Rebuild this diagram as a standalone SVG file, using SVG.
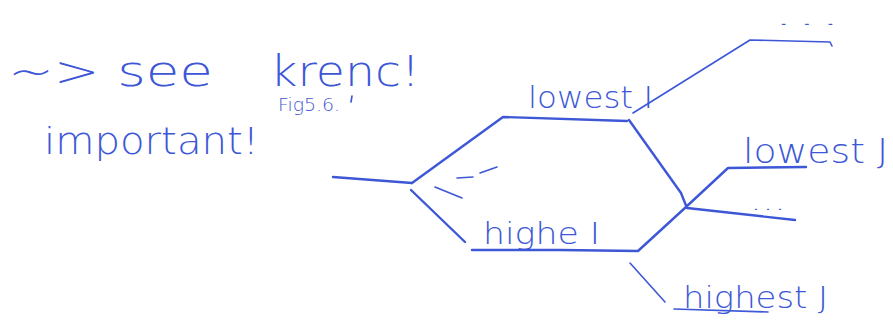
<svg xmlns="http://www.w3.org/2000/svg" width="893" height="325" viewBox="0 0 893 325">
  <style>
    .ink { fill: none; stroke: #3d57d6; stroke-width: 2.4; stroke-linecap: round; stroke-linejoin: round; }
    .thin { stroke-width: 1.6; }
    .hand { fill: #3d57d6; font-family: "DejaVu Sans", "Liberation Sans", sans-serif; font-weight: 300; }
  </style>
  <rect width="893" height="325" fill="#ffffff"/>

  <!-- notes, top left -->
  <g id="note-see">
    <text class="hand" x="8" y="86" font-size="42" textLength="205" lengthAdjust="spacingAndGlyphs">~&gt; see</text>
  </g>
  <g id="note-krenc">
    <text class="hand" x="270" y="86" font-size="42" textLength="150" lengthAdjust="spacingAndGlyphs">krenc!</text>
    <text class="hand" x="278" y="111" font-size="17" textLength="62" lengthAdjust="spacingAndGlyphs">Fig5.6.</text>
    <path class="ink thin" d="M352 96 L351 102"/>
  </g>
  <g id="note-important">
    <text class="hand" x="44" y="154" font-size="38" textLength="215" lengthAdjust="spacingAndGlyphs">important!</text>
  </g>

  <!-- branch labels -->
  <g id="lowest-I">
    <text class="hand" x="528" y="108" font-size="31" textLength="125" lengthAdjust="spacingAndGlyphs">lowest I</text>
  </g>
  <g id="dots-top">
    <text class="hand" x="772" y="25" font-size="20" textLength="70" lengthAdjust="spacingAndGlyphs">...</text>
  </g>
  <g id="lowest-J">
    <text class="hand" x="743" y="163" font-size="33" textLength="145" lengthAdjust="spacingAndGlyphs">lowest J</text>
  </g>
  <g id="dots-mid">
    <text class="hand" x="750" y="210" font-size="20" textLength="36" lengthAdjust="spacingAndGlyphs">...</text>
  </g>
  <g id="highe-I">
    <text class="hand" x="483" y="244" font-size="31" textLength="117" lengthAdjust="spacingAndGlyphs">highe I</text>
  </g>
  <g id="highest-J">
    <text class="hand" x="683" y="308" font-size="31" textLength="145" lengthAdjust="spacingAndGlyphs">highest J</text>
  </g>

  <!-- tree branches -->
  <g id="connectors">
    <path class="ink" d="M333 177 L412 183"/>
    <path class="ink" d="M412 183 L503 117 L627 121"/>
    <path class="ink" d="M411 190 L465 242"/>
    <path class="ink thin" d="M457 178 L473 177"/>
    <path class="ink thin" d="M480 173 L497 167"/>
    <path class="ink thin" d="M435 187 L462 198"/>
    <path class="ink" d="M472 250 L560 250 L638 251 L686 207 L728 168 L806 167"/>
    <path class="ink" d="M629 120 L681 193 L687 208 L795 220"/>
    <path class="ink thin" d="M633 113 L750 40 L830 42 L832 46"/>
    <path class="ink thin" d="M630 263 L665 302"/>
    <path class="ink thin" d="M674 309 L768 312"/>
  </g>
</svg>
